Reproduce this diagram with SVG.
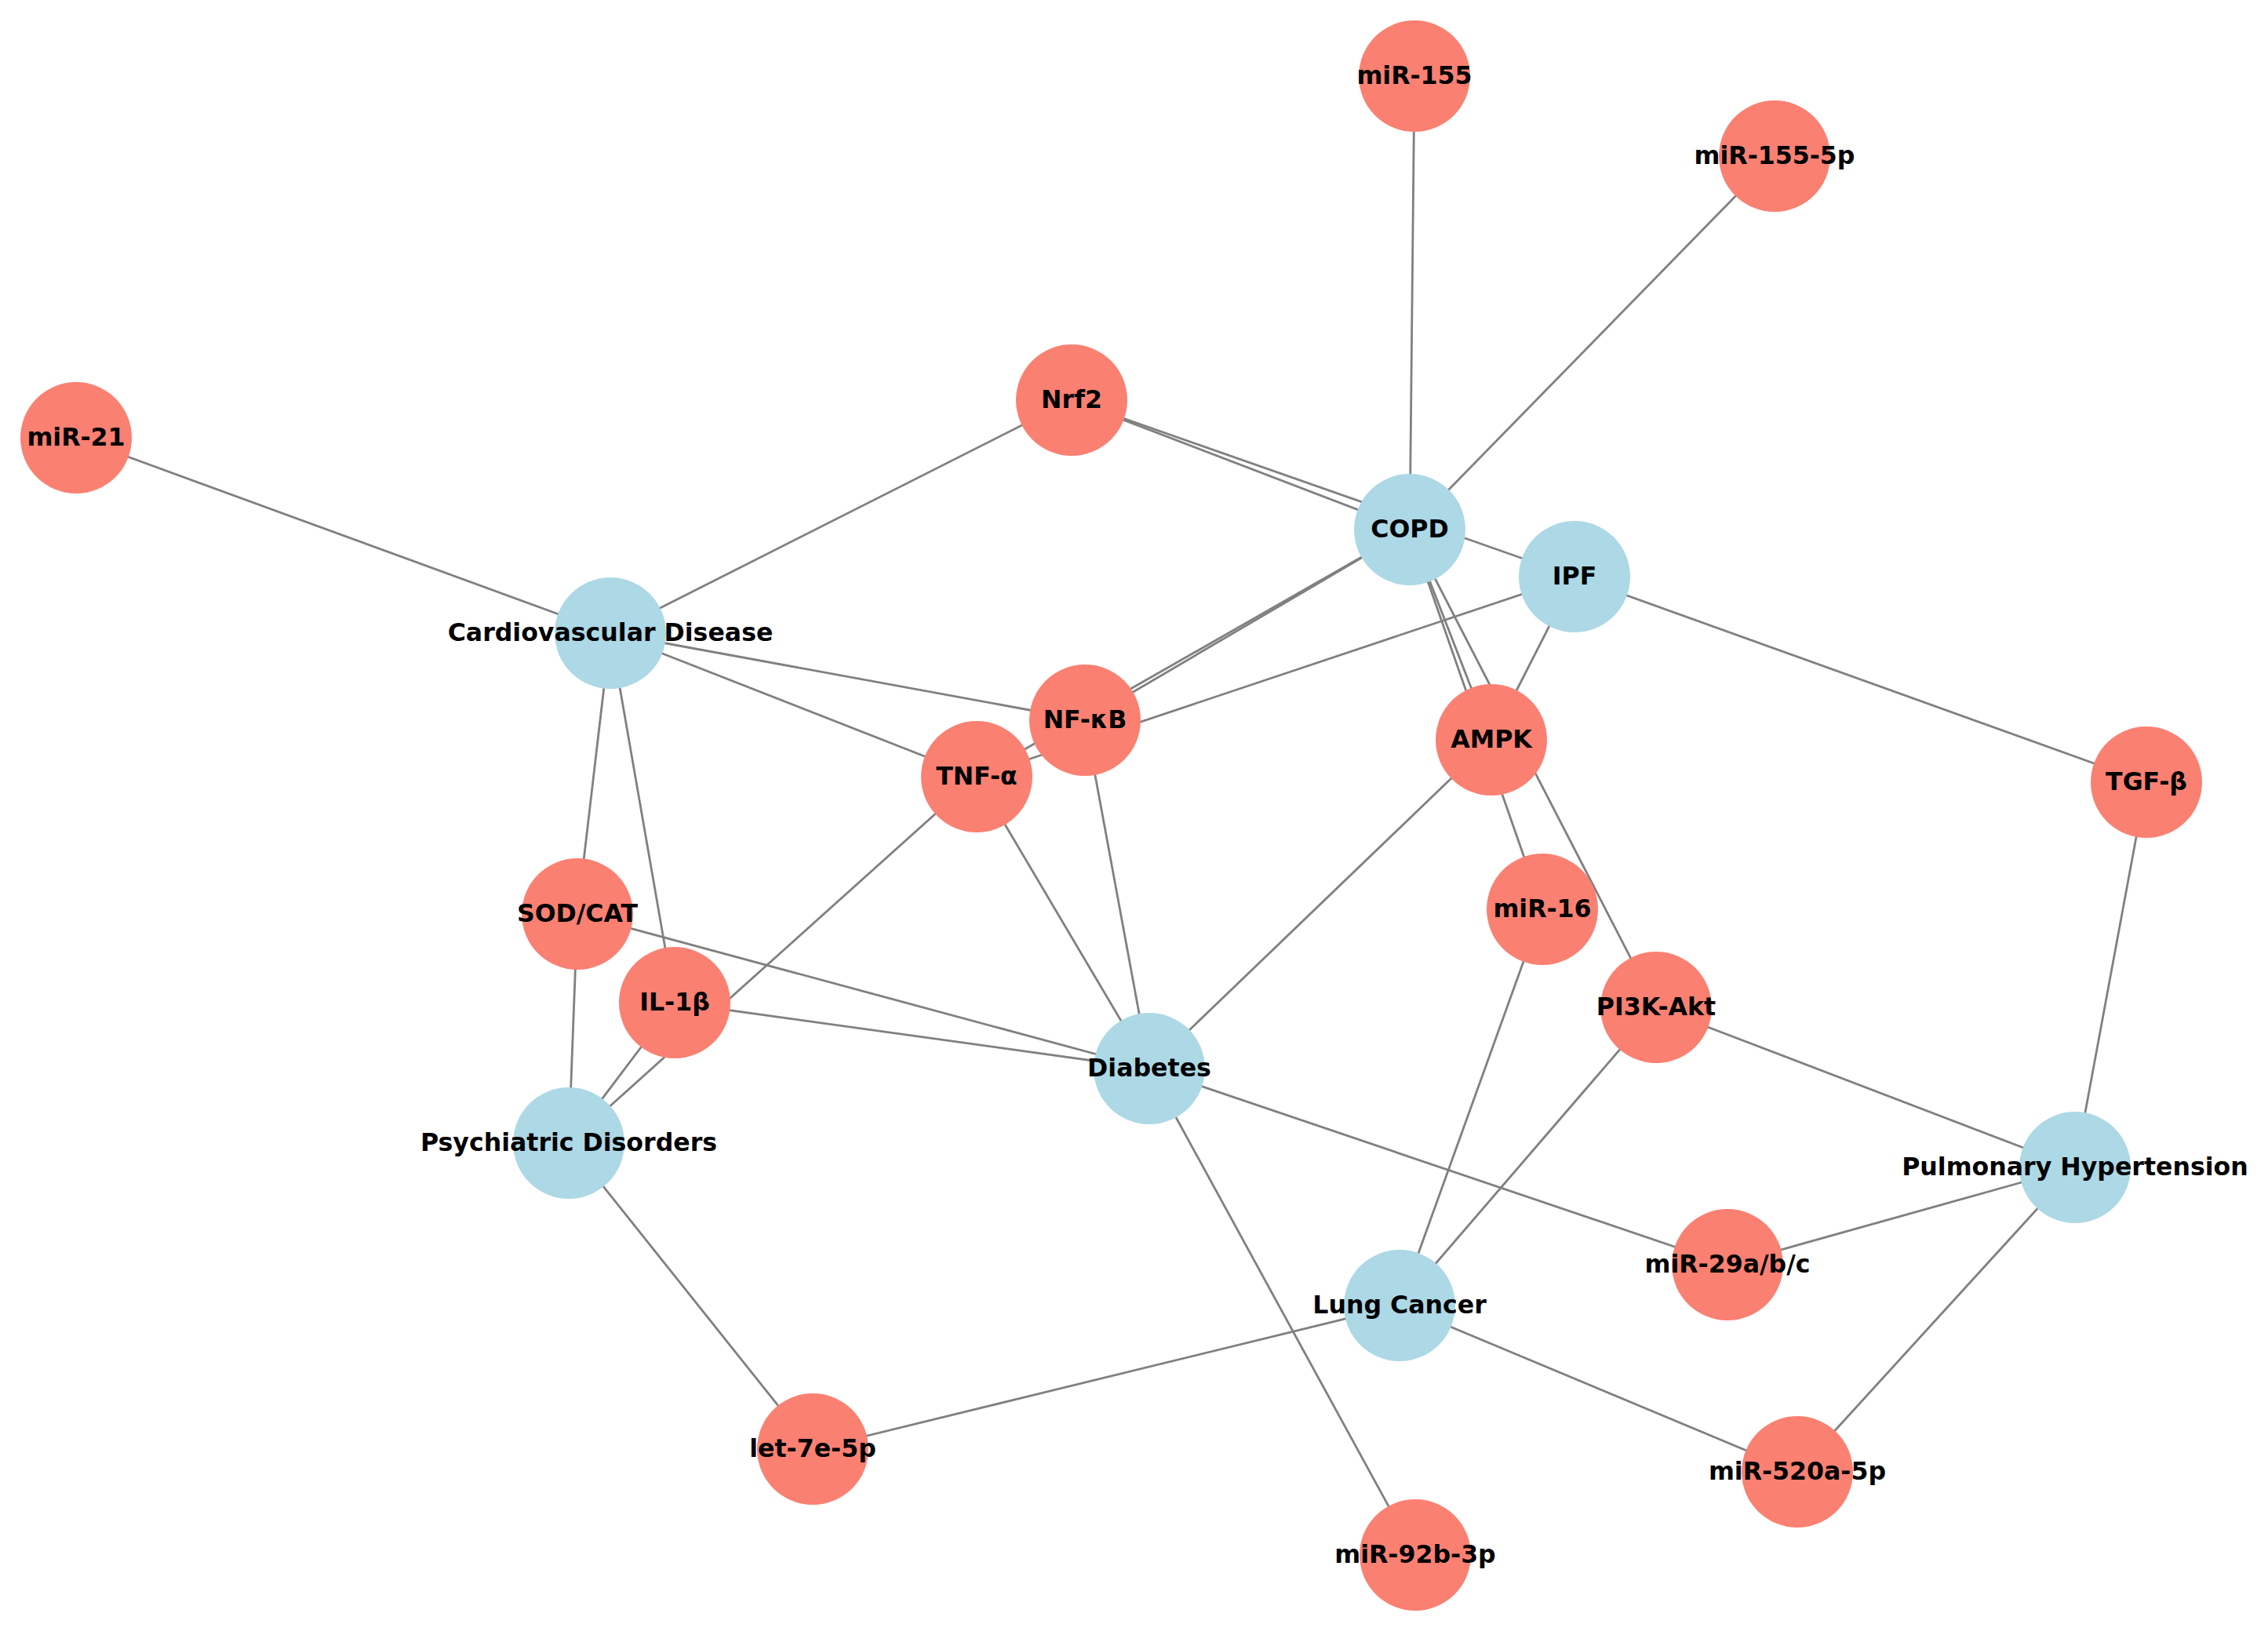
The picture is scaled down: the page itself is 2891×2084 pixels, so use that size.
<svg xmlns="http://www.w3.org/2000/svg" width="2891" height="2084" viewBox="0 0 2891 2084">
<style>
.e{stroke:#808080;stroke-width:2.8;fill:none}
.m{fill:#FA8072}
.d{fill:#ADD8E6}
text{font-family:"DejaVu Sans","Liberation Sans",sans-serif;font-weight:bold;font-size:31.6px;fill:#000;text-anchor:middle}
</style>
<rect width="2891" height="2084" fill="#fff"/>
<g id="edges">
<line class="e" x1="1803" y1="97" x2="1797" y2="675"/>
<line class="e" x1="2262" y1="199" x2="1797" y2="675"/>
<line class="e" x1="97" y1="558" x2="778" y2="807"/>
<line class="e" x1="1366" y1="510" x2="778" y2="807"/>
<line class="e" x1="1366" y1="510" x2="1797" y2="675"/>
<line class="e" x1="1366" y1="510" x2="2007" y2="735"/>
<line class="e" x1="1797" y1="675" x2="1383" y2="918"/>
<line class="e" x1="1797" y1="675" x2="1245" y2="990"/>
<line class="e" x1="1797" y1="675" x2="1901" y2="943"/>
<line class="e" x1="1797" y1="675" x2="1966" y2="1159"/>
<line class="e" x1="1797" y1="675" x2="2111" y2="1284"/>
<line class="e" x1="2007" y1="735" x2="1901" y2="943"/>
<line class="e" x1="2007" y1="735" x2="1245" y2="990"/>
<line class="e" x1="2007" y1="735" x2="2736" y2="997"/>
<line class="e" x1="778" y1="807" x2="1383" y2="918"/>
<line class="e" x1="778" y1="807" x2="1245" y2="990"/>
<line class="e" x1="778" y1="807" x2="736" y2="1165"/>
<line class="e" x1="778" y1="807" x2="860" y2="1278"/>
<line class="e" x1="1245" y1="990" x2="1465" y2="1362"/>
<line class="e" x1="1245" y1="990" x2="725" y2="1457"/>
<line class="e" x1="1383" y1="918" x2="1465" y2="1362"/>
<line class="e" x1="1901" y1="943" x2="1465" y2="1362"/>
<line class="e" x1="736" y1="1165" x2="1465" y2="1362"/>
<line class="e" x1="736" y1="1165" x2="725" y2="1457"/>
<line class="e" x1="860" y1="1278" x2="1465" y2="1362"/>
<line class="e" x1="860" y1="1278" x2="725" y2="1457"/>
<line class="e" x1="1465" y1="1362" x2="2202" y2="1612"/>
<line class="e" x1="1465" y1="1362" x2="1804" y2="1982"/>
<line class="e" x1="1966" y1="1159" x2="1784" y2="1664"/>
<line class="e" x1="2111" y1="1284" x2="1784" y2="1664"/>
<line class="e" x1="2111" y1="1284" x2="2645" y2="1488"/>
<line class="e" x1="2736" y1="997" x2="2645" y2="1488"/>
<line class="e" x1="2645" y1="1488" x2="2202" y2="1612"/>
<line class="e" x1="2645" y1="1488" x2="2291" y2="1876"/>
<line class="e" x1="1784" y1="1664" x2="1036" y2="1847"/>
<line class="e" x1="1784" y1="1664" x2="2291" y2="1876"/>
<line class="e" x1="725" y1="1457" x2="1036" y2="1847"/>
</g>
<g id="n-miR-155"><circle class="m" cx="1803" cy="97" r="71"/><text x="1803" y="107">miR-155</text></g>
<g id="n-miR-155-5p"><circle class="m" cx="2262" cy="199" r="71"/><text x="2262" y="209">miR-155-5p</text></g>
<g id="n-miR-21"><circle class="m" cx="97" cy="558" r="71"/><text x="97" y="568">miR-21</text></g>
<g id="n-Nrf2"><circle class="m" cx="1366" cy="510" r="71"/><text x="1366" y="520">Nrf2</text></g>
<g id="n-COPD"><circle class="d" cx="1797" cy="675" r="71"/><text x="1797" y="685">COPD</text></g>
<g id="n-IPF"><circle class="d" cx="2007" cy="735" r="71"/><text x="2007" y="745">IPF</text></g>
<g id="n-CVD"><circle class="d" cx="778" cy="807" r="71"/><text x="778" y="817">Cardiovascular Disease</text></g>
<g id="n-NFkB"><circle class="m" cx="1383" cy="918" r="71"/><text x="1383" y="928">NF-κB</text></g>
<g id="n-AMPK"><circle class="m" cx="1901" cy="943" r="71"/><text x="1901" y="953">AMPK</text></g>
<g id="n-TNFa"><circle class="m" cx="1245" cy="990" r="71"/><text x="1245" y="1000">TNF-α</text></g>
<g id="n-TGFb"><circle class="m" cx="2736" cy="997" r="71"/><text x="2736" y="1007">TGF-β</text></g>
<g id="n-SODCAT"><circle class="m" cx="736" cy="1165" r="71"/><text x="736" y="1175">SOD/CAT</text></g>
<g id="n-miR-16"><circle class="m" cx="1966" cy="1159" r="71"/><text x="1966" y="1169">miR-16</text></g>
<g id="n-IL1b"><circle class="m" cx="860" cy="1278" r="71"/><text x="860" y="1288">IL-1β</text></g>
<g id="n-PI3K"><circle class="m" cx="2111" cy="1284" r="71"/><text x="2111" y="1294">PI3K-Akt</text></g>
<g id="n-Diabetes"><circle class="d" cx="1465" cy="1362" r="71"/><text x="1465" y="1372">Diabetes</text></g>
<g id="n-Psych"><circle class="d" cx="725" cy="1457" r="71"/><text x="725" y="1467">Psychiatric Disorders</text></g>
<g id="n-PH"><circle class="d" cx="2645" cy="1488" r="71"/><text x="2645" y="1498">Pulmonary Hypertension</text></g>
<g id="n-miR-29"><circle class="m" cx="2202" cy="1612" r="71"/><text x="2202" y="1622">miR-29a/b/c</text></g>
<g id="n-LungCancer"><circle class="d" cx="1784" cy="1664" r="71"/><text x="1784" y="1674">Lung Cancer</text></g>
<g id="n-let-7e"><circle class="m" cx="1036" cy="1847" r="71"/><text x="1036" y="1857">let-7e-5p</text></g>
<g id="n-miR-520a"><circle class="m" cx="2291" cy="1876" r="71"/><text x="2291" y="1886">miR-520a-5p</text></g>
<g id="n-miR-92b"><circle class="m" cx="1804" cy="1982" r="71"/><text x="1804" y="1992">miR-92b-3p</text></g>
</svg>
